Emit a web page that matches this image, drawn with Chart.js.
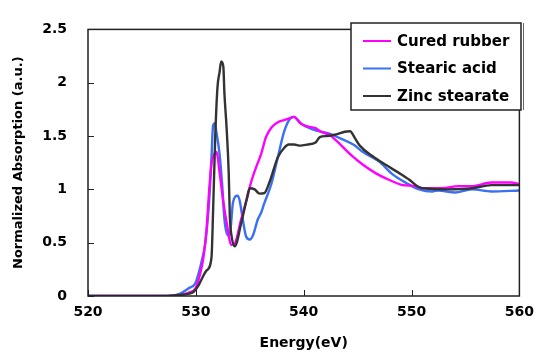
<!DOCTYPE html>
<html>
<head>
<meta charset="utf-8">
<script src="https://cdn.jsdelivr.net/npm/chart.js@4.4.0/dist/chart.umd.min.js"></script>
<style>
  html, body { margin: 0; padding: 0; background: #fff; }
  #wrap { width: 542px; height: 354px; }
</style>
</head>
<body>
<div id="wrap"><canvas id="c" width="542" height="354"></canvas></div>
<script>
// ---- Data ----
const seriesNames = ["Cured rubber", "Stearic acid", "Zinc stearate"];

const rubberE = [520, 527.5, 528.5, 529.3, 529.95, 530.4, 530.7, 531.0, 531.2, 531.45, 531.7, 531.9, 532.25, 532.55, 532.85, 533.3, 533.6, 534.2, 534.7, 535.1, 535.6, 536.05, 536.5, 537.1, 537.6, 538.2, 538.8, 539.1, 539.7, 540.3, 541.1, 541.5, 542.4, 543.1, 544.3, 545.5, 546.7, 547.9, 549.2, 550.4, 551.0, 552.8, 554.35, 555.6, 557.4, 559.2, 560];
const rubberV = [0, 0, 0.01, 0.03, 0.07, 0.21, 0.36, 0.63, 0.94, 1.24, 1.33, 1.35, 1.12, 0.88, 0.69, 0.48, 0.49, 0.72, 0.9, 1.06, 1.21, 1.33, 1.49, 1.59, 1.63, 1.65, 1.67, 1.68, 1.62, 1.59, 1.575, 1.545, 1.51, 1.45, 1.33, 1.23, 1.15, 1.09, 1.04, 1.03, 1.01, 1.01, 1.03, 1.03, 1.065, 1.065, 1.05];

const stearicE = [520, 527.5, 528.5, 529.3, 529.95, 530.25, 530.55, 530.85, 531.15, 531.3, 531.45, 531.6, 531.75, 531.9, 532.2, 532.45, 532.65, 532.95, 533.15, 533.45, 533.85, 534.05, 534.35, 534.65, 535.0, 535.3, 535.75, 536.05, 536.35, 537.0, 537.6, 538.2, 538.8, 539.1, 539.7, 540.9, 542.45, 543.35, 544.6, 545.5, 547.0, 548.25, 549.5, 550.7, 551.9, 552.5, 554.05, 555.6, 557.4, 560];
const stearicV = [0, 0, 0.02, 0.07, 0.12, 0.21, 0.33, 0.48, 0.78, 1.0, 1.3, 1.6, 1.62, 1.54, 1.33, 1.03, 0.72, 0.57, 0.58, 0.88, 0.94, 0.9, 0.72, 0.56, 0.53, 0.57, 0.72, 0.78, 0.87, 1.05, 1.3, 1.545, 1.67, 1.68, 1.62, 1.56, 1.52, 1.48, 1.42, 1.35, 1.26, 1.14, 1.06, 1.0, 0.98, 0.99, 0.97, 1.0, 0.98, 0.99];

const zincE = [520, 527.0, 528.5, 529.3, 529.8, 530.25, 530.5, 531.0, 531.45, 531.6, 531.8, 532.0, 532.2, 532.35, 532.55, 532.65, 532.85, 533.05, 533.15, 533.3, 533.6, 534.2, 534.7, 535.0, 535.45, 535.9, 536.35, 536.8, 537.6, 538.2, 538.6, 539.1, 539.7, 540.3, 541.1, 541.5, 542.15, 542.75, 543.2, 543.8, 544.3, 544.75, 545.2, 546.4, 547.6, 548.9, 549.8, 550.7, 551.6, 553.4, 555.6, 557.4, 560];
const zincV = [0, 0, 0.01, 0.02, 0.04, 0.10, 0.15, 0.24, 0.36, 0.8, 1.5, 1.95, 2.1, 2.2, 2.15, 1.9, 1.58, 1.15, 0.75, 0.57, 0.465, 0.68, 0.9, 1.01, 1.0, 0.96, 0.965, 1.06, 1.3, 1.39, 1.42, 1.42, 1.41, 1.42, 1.44, 1.49, 1.50, 1.51, 1.52, 1.54, 1.545, 1.48, 1.41, 1.31, 1.23, 1.15, 1.09, 1.02, 1.006, 1.0, 1.01, 1.04, 1.04];

const xTicks = [520, 530, 540, 550, 560];
const yTicks = [0, 0.5, 1, 1.5, 2, 2.5];
const yTickLabels = ["0", "0.5", "1", "1.5", "2", "2.5"];

const seriesColors = ["#ff00ff", "#3a70f2", "#333333"];

function pts(E, V) { return E.map((e, i) => ({ x: e, y: V[i] })); }

const FONT = "'DejaVu Sans', sans-serif";

// inward ticks, frame box and legend
const decor = {
  id: 'decor',
  afterDatasetsDraw(chart) {
    const ctx = chart.ctx;
    const a = chart.chartArea;
    const xs = chart.scales.x, ys = chart.scales.y;
    ctx.save();
    ctx.strokeStyle = '#222';
    ctx.lineWidth = 1;
    ctx.beginPath();
    xTicks.forEach(v => {
      const px = Math.round(xs.getPixelForValue(v)) + 0.5;
      ctx.moveTo(px, a.bottom); ctx.lineTo(px, a.bottom - 6);
    });
    yTicks.forEach(v => {
      const py = Math.round(ys.getPixelForValue(v)) + 0.5;
      ctx.moveTo(a.left, py); ctx.lineTo(a.left + 6, py);
    });
    ctx.stroke();
    ctx.lineWidth = 1.5;
    ctx.strokeRect(a.left, a.top, a.right - a.left, a.bottom - a.top);

    // legend box
    const lx = 351, ly = 23, lw = 170, lh = 87;
    ctx.fillStyle = '#fff';
    ctx.fillRect(lx, ly, lw, lh);
    ctx.strokeStyle = '#222';
    ctx.lineWidth = 1.5;
    ctx.strokeRect(lx, ly, lw, lh);
    ctx.lineWidth = 1;
    ctx.strokeStyle = '#666';
    ctx.beginPath();
    ctx.moveTo(lx + lw + 2.5, ly); ctx.lineTo(lx + lw + 2.5, ly + lh);
    ctx.stroke();
    ctx.font = "bold 15px " + FONT;
    ctx.textBaseline = 'middle';
    ctx.textAlign = 'left';
    chart.data.datasets.forEach((ds, i) => {
      const cy = 41 + i * 27.5;
      ctx.strokeStyle = ds.borderColor;
      ctx.lineWidth = 2;
      ctx.beginPath();
      ctx.moveTo(363, cy); ctx.lineTo(391, cy);
      ctx.stroke();
      ctx.fillStyle = '#000';
      ctx.fillText(ds.label, 397, cy + 1);
    });
    ctx.restore();
  }
};

new Chart(document.getElementById('c'), {
  type: 'line',
  data: {
    datasets: [
      { label: seriesNames[0], data: pts(rubberE, rubberV), borderColor: seriesColors[0], order: 1 },
      { label: seriesNames[1], data: pts(stearicE, stearicV), borderColor: seriesColors[1], order: 2 },
      { label: seriesNames[2], data: pts(zincE, zincV), borderColor: seriesColors[2], order: 0 }
    ]
  },
  options: {
    responsive: false,
    animation: false,
    devicePixelRatio: 1,
    layout: { padding: { top: 22, right: 17, left: 0, bottom: 0 } },
    elements: {
      point: { radius: 0 },
      line: { borderWidth: 2.4, cubicInterpolationMode: 'monotone', fill: false }
    },
    plugins: { legend: { display: false }, tooltip: { enabled: false } },
    scales: {
      x: {
        type: 'linear', min: 520, max: 560,
        afterBuildTicks: s => { s.ticks = xTicks.map(v => ({ value: v })); },
        afterFit: s => { s.height = 58; },
        grid: { display: false, drawTicks: false },
        border: { display: false },
        ticks: { padding: 8, color: '#000', font: { family: FONT, size: 14, weight: 'bold' }, maxRotation: 0 },
        title: { display: true, text: 'Energy(eV)', color: '#000', font: { family: FONT, size: 14, weight: 'bold' }, padding: { top: 0, bottom: 2 } }
      },
      y: {
        type: 'linear', min: 0, max: 2.5,
        afterBuildTicks: s => { s.ticks = yTicks.map(v => ({ value: v })); },
        afterFit: s => { s.width = 88; },
        grid: { display: false, drawTicks: false },
        border: { display: false },
        ticks: {
          padding: 21, color: '#000', font: { family: FONT, size: 14, weight: 'bold' },
          callback: (v) => { const i = yTicks.indexOf(v); return i >= 0 ? yTickLabels[i] : String(v); }
        },
        title: { display: true, text: 'Normalized Absorption (a.u.)', color: '#000', font: { family: FONT, size: 13, weight: 'bold' }, padding: { top: 11, bottom: 0 } }
      }
    }
  },
  plugins: [decor]
});
</script>
</body>
</html>
